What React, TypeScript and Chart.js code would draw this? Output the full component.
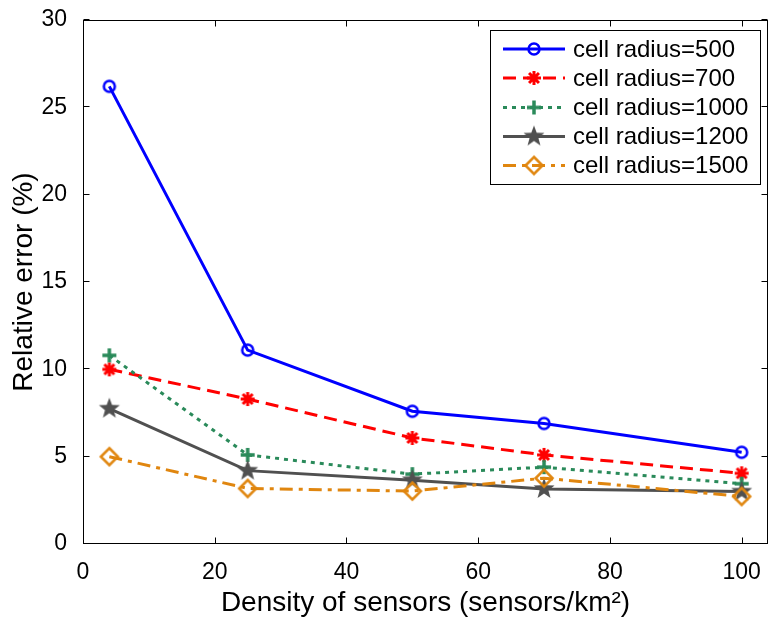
import React, { useEffect, useRef } from 'react';
import { Chart, registerables } from 'chart.js';

Chart.register(...registerables);

const densities = [4, 25, 50, 70, 100];
const radius500 = [26.2, 11.1, 7.6, 6.9, 5.25];
const radius700 = [10.0, 8.3, 6.07, 5.1, 4.05];
const radius1000 = [10.8, 5.1, 4.0, 4.4, 3.45];
const radius1200 = [7.75, 4.2, 3.65, 3.15, 3.0];
const radius1500 = [5.0, 3.18, 3.03, 3.77, 2.72];
const seriesLabels = ['cell radius=500', 'cell radius=700', 'cell radius=1000', 'cell radius=1200', 'cell radius=1500'];
const xTicks = [0, 20, 40, 60, 80, 100];
const yTicks = [0, 5, 10, 15, 20, 25, 30];

const FONT = '"Liberation Sans", Arial, sans-serif';

type MarkerKind = 'circle' | 'asterisk' | 'plus' | 'pentagram' | 'diamond';

function makeMarker(kind: MarkerKind, color: string) {
  const size = 28;
  const c = document.createElement('canvas');
  c.width = size;
  c.height = size;
  const ctx = c.getContext('2d')!;
  const cx = size / 2, cy = size / 2;
  ctx.strokeStyle = color;
  ctx.fillStyle = color;
  ctx.lineCap = 'butt';
  ctx.lineJoin = 'miter';
  ctx.beginPath();
  if (kind === 'circle') {
    ctx.lineWidth = 2.5;
    ctx.arc(cx, cy, 5.5, 0, Math.PI * 2);
    ctx.stroke();
  } else if (kind === 'asterisk') {
    const r = 7;
    const d = r * Math.SQRT1_2;
    ctx.lineWidth = 3;
    ctx.moveTo(cx - r, cy); ctx.lineTo(cx + r, cy);
    ctx.moveTo(cx, cy - r); ctx.lineTo(cx, cy + r);
    ctx.moveTo(cx - d, cy - d); ctx.lineTo(cx + d, cy + d);
    ctx.moveTo(cx - d, cy + d); ctx.lineTo(cx + d, cy - d);
    ctx.stroke();
  } else if (kind === 'plus') {
    const r = 7;
    ctx.lineWidth = 3.5;
    ctx.moveTo(cx - r, cy); ctx.lineTo(cx + r, cy);
    ctx.moveTo(cx, cy - r); ctx.lineTo(cx, cy + r);
    ctx.stroke();
  } else if (kind === 'pentagram') {
    for (let i = 0; i < 10; i++) {
      const r = i % 2 === 0 ? 11 : 4.6;
      const a = -Math.PI / 2 + (i * Math.PI) / 5;
      const px = cx + r * Math.cos(a);
      const py = cy + r * Math.sin(a);
      if (i === 0) ctx.moveTo(px, py); else ctx.lineTo(px, py);
    }
    ctx.closePath();
    ctx.fill();
  } else {
    const r = 8.5;
    ctx.lineWidth = 2.5;
    ctx.moveTo(cx, cy - r);
    ctx.lineTo(cx + r, cy);
    ctx.lineTo(cx, cy + r);
    ctx.lineTo(cx - r, cy);
    ctx.closePath();
    ctx.stroke();
  }
  return c;
}

const boxPlugin = {
  id: 'matlabBox',
  afterDatasetsDraw(chart: any) {
    const { ctx, chartArea: a, scales } = chart;
    ctx.save();
    ctx.strokeStyle = '#000';
    ctx.lineWidth = 1;
    const L = Math.round(a.left) + 0.5, T = Math.round(a.top) + 0.5;
    const R = Math.round(a.right) - 0.5, B = Math.round(a.bottom) - 0.5;
    ctx.strokeRect(L, T, R - L, B - T);
    const tl = 6;
    ctx.beginPath();
    xTicks.forEach((v) => {
      const px = Math.round(scales.x.getPixelForValue(v)) + 0.5;
      ctx.moveTo(px, B);
      ctx.lineTo(px, B - tl);
      ctx.moveTo(px, T);
      ctx.lineTo(px, T + tl);
    });
    yTicks.forEach((v) => {
      const py = Math.round(scales.y.getPixelForValue(v)) - 0.5;
      ctx.moveTo(L, py);
      ctx.lineTo(L + tl, py);
      ctx.moveTo(R, py);
      ctx.lineTo(R - tl, py);
    });
    ctx.stroke();

    // legend
    const lx = 490.5, ly = 30.5, lw = 270, lh = 154;
    ctx.fillStyle = '#fff';
    ctx.fillRect(lx, ly, lw, lh);
    ctx.strokeStyle = '#000';
    ctx.lineWidth = 1;
    ctx.strokeRect(lx, ly, lw, lh);
    const rowY = [49, 78, 107.5, 136.5, 165.5];
    chart.data.datasets.forEach((ds: any, i: number) => {
      const y = rowY[i];
      ctx.save();
      ctx.strokeStyle = ds.borderColor;
      ctx.lineWidth = ds.borderWidth;
      ctx.setLineDash(ds.borderDash || []);
      ctx.beginPath();
      ctx.moveTo(503, y);
      ctx.lineTo(565, y);
      ctx.stroke();
      ctx.setLineDash([]);
      const img = ds.pointStyle as HTMLCanvasElement;
      ctx.drawImage(img, 534 - img.width / 2, y - img.height / 2);
      ctx.restore();
      ctx.fillStyle = '#000';
      ctx.font = `24px ${FONT}`;
      ctx.textAlign = 'left';
      ctx.textBaseline = 'middle';
      ctx.fillText(ds.label, 573, y + 1);
    });
    ctx.restore();
  },
};

export default function App() {
  const ref = useRef<HTMLCanvasElement | null>(null);
  useEffect(() => {
    document.body.style.margin = '0';
    const toPts = (arr: number[]) => arr.map((v, i) => ({ x: densities[i], y: v }));
    const mk = (kind: MarkerKind, color: string) => ({
      pointStyle: makeMarker(kind, color), pointRadius: 1, pointBorderWidth: 0,
      pointBorderColor: color, pointBackgroundColor: color,
    });
    const chart = new Chart(ref.current!, {
      type: 'line',
      data: {
        datasets: [
          { label: seriesLabels[0], data: toPts(radius500), borderColor: '#0000ff', borderWidth: 3, ...mk('circle', '#0000ff'), order: 4 },
          { label: seriesLabels[1], data: toPts(radius700), borderColor: '#ff0000', borderWidth: 3, borderDash: [13, 7], ...mk('asterisk', '#ff0000'), order: 3 },
          { label: seriesLabels[2], data: toPts(radius1000), borderColor: '#2a8a5a', borderWidth: 3, borderDash: [4, 5], ...mk('plus', '#2a8a5a'), order: 2 },
          { label: seriesLabels[3], data: toPts(radius1200), borderColor: '#505050', borderWidth: 3, ...mk('pentagram', '#505050'), order: 1 },
          { label: seriesLabels[4], data: toPts(radius1500), borderColor: '#e0860f', borderWidth: 3, borderDash: [13, 6, 4, 6], ...mk('diamond', '#e0860f'), order: 0 },
        ] as any,
      },
      options: {
        responsive: false,
        animation: false,
        events: [],
        layout: { padding: { top: 20, right: 1, left: 0, bottom: 0 } },
        plugins: { legend: { display: false }, tooltip: { enabled: false } },
        elements: { line: { tension: 0 } },
        scales: {
          x: {
            type: 'linear', min: 0, max: 104,
            grid: { display: false }, border: { display: false },
            ticks: { color: '#000', font: { family: FONT, size: 23 }, padding: 7, maxRotation: 0, autoSkip: false },
            title: { display: true, text: 'Density of sensors (sensors/km²)', color: '#000', font: { family: FONT, size: 28 }, padding: { top: 0, bottom: 0 } },
            afterBuildTicks(scale: any) { scale.ticks = xTicks.map((v) => ({ value: v })); },
            afterFit(scale: any) { scale.height = 76; scale.paddingLeft = 0; scale.paddingRight = 0; },
          },
          y: {
            type: 'linear', min: 0, max: 30,
            grid: { display: false }, border: { display: false },
            ticks: { color: '#000', font: { family: FONT, size: 23 }, padding: 8 },
            title: { display: true, text: 'Relative error (%)', color: '#000', font: { family: FONT, size: 28 }, padding: { top: 7, bottom: 0 } },
            afterBuildTicks(scale: any) { scale.ticks = yTicks.map((v) => ({ value: v })); },
            afterFit(scale: any) { scale.width = 83; scale.paddingTop = 0; scale.paddingBottom = 0; },
          },
        },
      } as any,
      plugins: [boxPlugin],
    });
    return () => chart.destroy();
  }, []);
  return (
    <div style={{ width: 772, height: 620, background: '#fff' }}>
      <canvas ref={ref} width={772} height={620} style={{ display: 'block' }} />
    </div>
  );
}
